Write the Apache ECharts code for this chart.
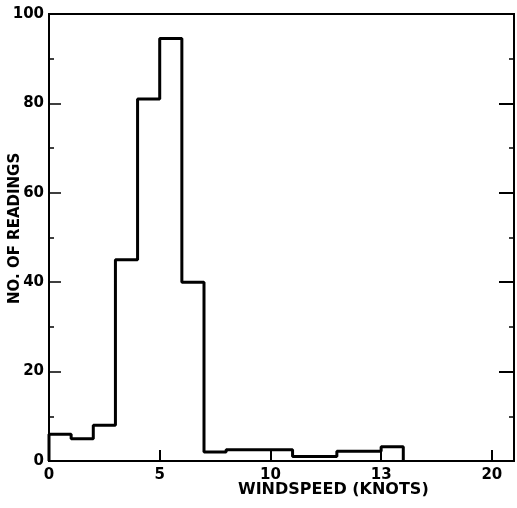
<!DOCTYPE html>
<html><head><meta charset="utf-8">
<script src="https://cdn.jsdelivr.net/npm/echarts@6/dist/echarts.min.js"></script>
<style>html,body{margin:0;padding:0;background:#fff}#c{width:517px;height:508px}</style>
</head><body><div id="c"></div>
<script>
// bin start (knots) and number of readings
const binStarts = [0,1,2,3,4,5,6,7,8,9,10,11,12,13,14,15];
const readings  = [6,5,8,45,81,94.5,40,2,2.5,2.5,2.5,1,1,2.2,2.2,3.2];
const binEnd = 16;
const xTickLabels = {0:'0',5:'5',10:'10',15:'13',20:'20'};
const yTickLabels = ['0','20','40','60','80','100'];
const xTitle = 'WINDSPEED (KNOTS)';
const yTitle = 'NO. OF READINGS';

const pts = [[binStarts[0],0]];
binStarts.forEach((x,i)=>pts.push([x,readings[i]]));
pts.push([binEnd,0]);

const font = 'DejaVu Sans';
const chart = echarts.init(document.getElementById('c'));
chart.setOption({
  animation:false,
  backgroundColor:'#fff',
  grid:{left:49,right:1,top:14,bottom:47,show:true,borderColor:'#000',borderWidth:2,backgroundColor:'transparent'},
  xAxis:{type:'value',min:0,max:21,interval:5,
    axisLine:{show:true,onZero:false,lineStyle:{color:'#000',width:2}},
    axisTick:{show:true,inside:true,length:11,lineStyle:{color:'#000',width:2},
      interval:function(v){return v>0;}},
    axisLabel:{color:'#000',fontFamily:font,fontWeight:'bold',fontSize:15,margin:7,
      formatter:function(v){return xTickLabels[v]!==undefined?xTickLabels[v]:'';}},
    splitLine:{show:false}},
  yAxis:[{type:'value',min:0,max:100,interval:20,
    axisLine:{show:true,lineStyle:{color:'#000',width:2}},
    axisTick:{show:true,inside:true,length:12,lineStyle:{color:'#000',width:1.5}},
    minorTick:{show:true,splitNumber:2,length:5,lineStyle:{color:'#000',width:1.5}},
    axisLabel:{color:'#000',fontFamily:font,fontWeight:'bold',fontSize:15,margin:5,
      formatter:function(v){return yTickLabels[v/20];}},
    splitLine:{show:false}},
   {type:'value',min:0,max:100,interval:20,position:'right',
    axisLine:{show:true,lineStyle:{color:'#000',width:2}},
    axisTick:{show:true,inside:true,length:15,lineStyle:{color:'#000',width:2}},
    minorTick:{show:true,splitNumber:2,length:5,lineStyle:{color:'#000',width:1.5}},
    axisLabel:{show:false},splitLine:{show:false}}],
  graphic:[
    {type:'text',left:238,top:482,style:{text:xTitle,fill:'#000',font:'bold 16px "DejaVu Sans"'}},
    {type:'text',x:8,y:304,rotation:Math.PI/2,style:{text:yTitle,fill:'#000',font:'bold 15px "DejaVu Sans"',textAlign:'left',textVerticalAlign:'top'}}
  ],
  series:[{type:'line',step:'end',data:pts,symbol:'none',
    lineStyle:{color:'#000',width:3},clip:false}]
});
</script></body></html>
